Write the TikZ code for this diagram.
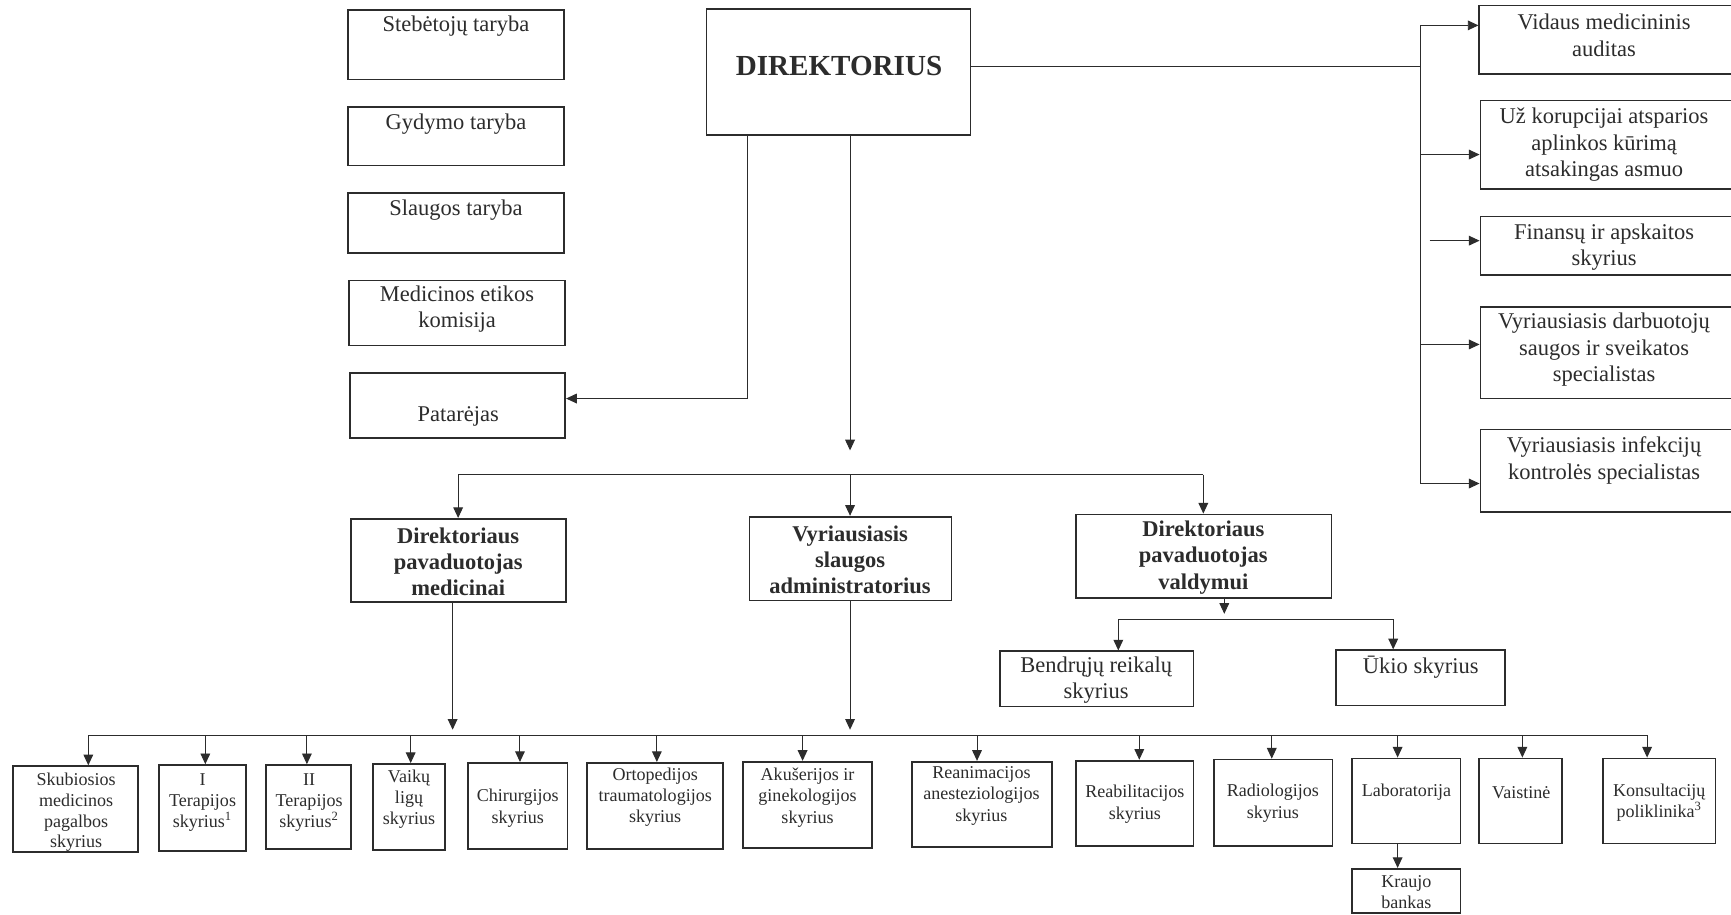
\documentclass[tikz,border=0pt]{standalone}
\usepackage{fontspec}
\setmainfont{Liberation Serif}
\usetikzlibrary{arrows.meta,fit}
\definecolor{ink}{HTML}{2c2c2c}
\newcommand\obox[9][txt]{%
  \node[box, fit={(#3,#4) (#5,#6)}] (#2) {};
  \node[#1] (#2-t) at (#7,#8) {#9};}
\begin{document}
\begin{tikzpicture}[x=0.02cm,y=-0.02cm,
  box/.style={draw=ink, line width=0.9pt, inner sep=0pt},
  txt/.style={align=center, inner sep=0pt, text=ink, font=\fontsize{11.6}{13.6}\selectfont},
  btxt/.style={txt, font=\fontsize{11.6}{13.6}\selectfont\bfseries},
  stxt/.style={txt, font=\fontsize{9.3}{11}\selectfont},
  sktxt/.style={txt, font=\fontsize{9.3}{10.6}\selectfont},
  conn/.style={draw=ink, line width=0.5pt},
  arr/.style={conn, -{Triangle[length=5.5pt,width=5pt]}}]
\clip (0,0) rectangle (1568,828);
\fill[white] (0,0) rectangle (1568,828);

% left column
\obox{steb}{315}{9}{511}{72}{413}{24}{Stebėtojų taryba}
\obox{gyd}{315}{97}{511}{150}{413}{112}{Gydymo taryba}
\obox{slt}{315}{175}{511}{229}{413}{190}{Slaugos taryba}
\obox{etik}{316}{254}{512}{313}{414}{280}{Medicinos etikos\\komisija}
\obox{pat}{317}{338}{512}{397}{415}{377}{Patarėjas}

% director
\obox[txt, font=\fontsize{15}{18}\selectfont\bfseries]{dir}{640}{8}{879}{122}{760}{60}{DIREKTORIUS}

% right column
\obox{vid}{1340}{5}{1585}{67}{1453}{32}{Vidaus medicininis\\auditas}
\obox{kor}{1341}{91}{1585}{171}{1453}{131}{Už korupcijai atsparios\\aplinkos kūrimą\\atsakingas asmuo}
\obox{fin}{1341}{196}{1585}{249}{1453}{224}{Finansų ir apskaitos\\skyrius}
\obox{darb}{1341}{278}{1585}{361}{1453}{317}{Vyriausiasis darbuotojų\\saugos ir sveikatos\\specialistas}
\obox{inf}{1341}{389}{1585}{464}{1453}{417}{Vyriausiasis infekcijų\\kontrolės specialistas}

% deputies
\obox[btxt]{med}{318}{470}{513}{545}{415}{509}{Direktoriaus\\pavaduotojas\\medicinai}
\obox[btxt]{sla}{679}{468}{862}{544}{770}{507}{Vyriausiasis\\slaugos\\administratorius}
\obox[btxt]{val}{975}{466}{1206}{542}{1090}{505}{Direktoriaus\\pavaduotojas\\valdymui}
\obox{bend}{906}{590}{1081}{640}{993}{616}{Bendrųjų reikalų\\skyrius}
\obox{ukio}{1210}{589}{1363}{639}{1287}{604}{Ūkio skyrius}

% departments
\obox[sktxt]{skub}{12}{694}{125}{772}{69}{736}{Skubiosios\\medicinos\\pagalbos\\skyrius}
\obox[stxt]{ter1}{144}{693}{223}{771}{183.5}{727}{I\\Terapijos\\skyrius\textsuperscript{1}}
\obox[stxt]{ter2}{241}{693}{318}{769}{280}{727}{II\\Terapijos\\skyrius\textsuperscript{2}}
\obox[stxt]{vaik}{338}{692}{403}{770}{370.5}{724}{Vaikų\\ligų\\skyrius}
\obox[stxt]{chir}{424}{691}{514}{769}{469}{732}{Chirurgijos\\skyrius}
\obox[stxt]{orto}{532}{691}{655}{769}{593.5}{722}{Ortopedijos\\traumatologijos\\skyrius}
\obox[stxt]{akus}{673}{690}{790}{768}{731.5}{722.5}{Akušerijos ir\\ginekologijos\\skyrius}
\obox[stxt]{rean}{826}{690}{953}{767}{889}{721}{Reanimacijos\\anesteziologijos\\skyrius}
\obox[stxt]{reab}{975}{689}{1081}{766}{1028}{728.5}{Reabilitacijos\\skyrius}
\obox[stxt]{rad}{1100}{688}{1207}{766}{1153}{727.5}{Radiologijos\\skyrius}
\obox[stxt]{lab}{1225}{687}{1323}{764}{1274}{718}{Laboratorija}
\obox[stxt]{krau}{1225}{787}{1323}{827}{1274}{808}{Kraujo\\bankas}
\obox[stxt]{vais}{1340}{687}{1415}{764}{1378}{718}{Vaistinė}
\obox[stxt]{kons}{1452}{687}{1554}{764}{1503}{727}{Konsultacijų\\poliklinika\textsuperscript{3}}

% free-end coordinates
\coordinate (dirdown) at (770,408);
\coordinate (topbus) at (770,430);
\coordinate (rbus) at (1287,60);
\coordinate (valdown) at (1109,556);
\coordinate (medend) at (410,661);
\coordinate (slaend) at (770,661);
\coordinate (finstart) at (1295,218);

% director -> advisor
\draw[arr] (dir.south -| 677,0) |- (pat.east |- 0,361);
% director -> down
\draw[arr] (dir.south -| dirdown) -- (dirdown);
% top bus
\draw[conn] (415,430) -- (1090,430);
\draw[arr] (415,430) -- (med.north -| 415,0);
\draw[arr] (topbus) -- (sla.north -| topbus);
\draw[arr] (1090,430) -- (val.north -| 1090,0);

% director -> right column
\draw[conn] (dir.east |- rbus) -- (rbus);
\draw[conn] (1287,23) -- (1287,438);
\draw[arr] (1287,23) -- (vid.west |- 0,23);
\draw[arr] (1287,140) -- (kor.west |- 0,140);
\draw[arr] (finstart) -- (fin.west |- finstart);
\draw[arr] (1287,312) -- (darb.west |- 0,312);
\draw[arr] (1287,438) -- (inf.west |- 0,438);

% valdymui subtree
\draw[arr] (val.south -| valdown) -- (valdown);
\draw[conn] (1013,561) -- (1262,561);
\draw[arr] (1013,561) -- (bend.north -| 1013,0);
\draw[arr] (1262,561) -- (ukio.north -| 1262,0);

% deputies -> departments bus
\draw[arr] (med.south -| medend) -- (medend);
\draw[arr] (sla.south -| slaend) -- (slaend);
\draw[conn] (80,666) -- (1492,666);
\foreach \xx/\nn in {80/skub,186/ter1,278/ter2,372/vaik,471/chir,595/orto,727/akus,885/rean,1032/reab,1152/rad,1266/lab,1379/vais,1492/kons}
  \draw[arr] (\xx,666) -- (\nn.north -| \xx,0);
\draw[arr] (lab.south -| 1266,0) -- (krau.north -| 1266,0);
\end{tikzpicture}
\end{document}
